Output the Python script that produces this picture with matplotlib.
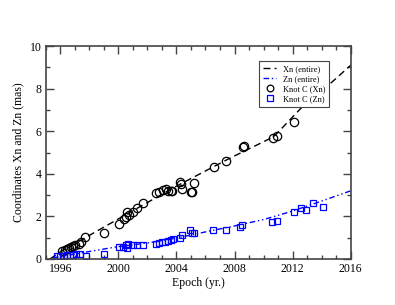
import matplotlib
matplotlib.use("Agg")
import matplotlib.pyplot as plt
from matplotlib.ticker import MultipleLocator

plt.rcParams['font.family'] = ['Liberation Serif', 'DejaVu Serif']

# Knot C, Xn coordinate
xn_years = [1996.1, 1996.3, 1996.45, 1996.6, 1996.75, 1996.9, 1997.05, 1997.3, 1997.45,
            1997.7, 1999.0, 2000.06, 2000.4, 2000.55, 2000.7, 2000.6, 2001.0, 2001.3, 2001.7,
            2002.6, 2002.8, 2003.1, 2003.3, 2003.4, 2003.6, 2003.7,
            2004.26, 2004.3, 2004.4, 2005.0, 2005.06, 2005.2,
            2006.56, 2007.4, 2008.55, 2008.65, 2010.65, 2010.9, 2012.1]
xn_vals = [0.38, 0.42, 0.46, 0.50, 0.55, 0.60, 0.66, 0.72, 0.78,
           1.02, 1.24, 1.64, 1.88, 1.99, 2.07, 2.21, 2.22, 2.38, 2.61,
           3.08, 3.16, 3.24, 3.27, 3.21, 3.19, 3.21,
           3.63, 3.52, 3.27, 3.16, 3.13, 3.55,
           4.30, 4.61, 5.27, 5.30, 5.67, 5.77, 6.42]

# Knot C, Zn coordinate
zn_years = [1995.8, 1996.0, 1996.25, 1996.45, 1996.7, 1996.9, 1997.1, 1997.35, 1997.75, 1999.0,
            2000.06, 2000.3, 2000.55, 2000.6, 2000.65, 2001.0, 2001.3, 2001.7,
            2002.6, 2002.8, 2003.0, 2003.2, 2003.4, 2003.6, 2003.75,
            2004.26, 2004.4, 2004.95, 2005.06, 2005.2,
            2006.5, 2007.4, 2008.4, 2008.5, 2010.6, 2010.9, 2012.1, 2012.6, 2012.9, 2013.4, 2014.1]
zn_vals = [0.14, 0.15, 0.16, 0.17, 0.19, 0.20, 0.22, 0.24, 0.12, 0.22,
           0.55, 0.58, 0.66, 0.50, 0.69, 0.66, 0.67, 0.66,
           0.69, 0.74, 0.78, 0.80, 0.83, 0.89, 0.92,
           0.97, 1.11, 1.36, 1.23, 1.23,
           1.36, 1.36, 1.49, 1.60, 1.75, 1.78, 2.22, 2.38, 2.30, 2.62, 2.46]

# fitted curves ("entire")
xn_fit_years = [1995.3, 1996.0, 2000.0, 2004.0, 2007.7, 2010.7, 2012.6, 2014.4, 2016.0]
xn_fit_vals = [0.0, 0.33, 1.88, 3.42, 4.74, 5.74, 7.10, 8.12, 9.10]
zn_fit_years = [1995.5, 1998.0, 2000.0, 2002.0, 2004.0, 2006.0, 2008.0, 2010.0, 2012.0, 2014.0, 2016.0]
zn_fit_vals = [0.05, 0.35, 0.58, 0.75, 0.98, 1.27, 1.55, 1.85, 2.25, 2.72, 3.20]

x_ticks = [1996, 2000, 2004, 2008, 2012, 2016]
y_ticks = [0, 2, 4, 6, 8, 10]

fig = plt.figure(figsize=(3.95, 3.05), dpi=100)
ax = fig.add_axes([0.1157, 0.151, 0.7723, 0.698])

ax.plot(xn_fit_years, xn_fit_vals, color='black', lw=1.0, dashes=(5, 3), label='Xn (entire)')
ax.plot(zn_fit_years, zn_fit_vals, color='blue', lw=1.0, dashes=(4, 2, 1, 2, 1, 2), label='Zn (entire)')
ax.plot(xn_years, xn_vals, ls='none', marker='o', ms=6, mfc='none', mec='black', mew=0.9,
        label='Knot C (Xn)')
ax.plot(zn_years, zn_vals, ls='none', marker='s', ms=5, mfc='none', mec='blue', mew=0.9,
        label='Knot C (Zn)')

ax.set_xlim(1995, 2016)
ax.set_ylim(0, 10)
ax.set_xticks(x_ticks)
ax.set_yticks(y_ticks)
ax.xaxis.set_minor_locator(MultipleLocator(1))
ax.yaxis.set_minor_locator(MultipleLocator(1))
ax.tick_params(which='both', direction='in', top=True, right=True, color='#444444',
               labelsize=8.5, width=1.0, pad=3)
ax.tick_params(which='major', length=6)
ax.tick_params(which='minor', length=3)
for s in ax.spines.values():
    s.set_color('#444444')
    s.set_linewidth(1.2)

ax.set_xlabel('Epoch (yr.)', fontsize=8.5, labelpad=1)
ax.set_ylabel('Coordinates Xn and Zn (mas)', fontsize=8.5, labelpad=4)

leg = ax.legend(loc='upper left', bbox_to_anchor=(0.70, 0.93), borderaxespad=0, fontsize=6,
                frameon=True, fancybox=False, edgecolor='#444444', framealpha=1,
                handlelength=1.6, handletextpad=0.8, borderpad=0.45, labelspacing=0.25,
                markerscale=0.8)
leg.get_frame().set_linewidth(0.8)

fig.savefig('out.png', dpi=100)
